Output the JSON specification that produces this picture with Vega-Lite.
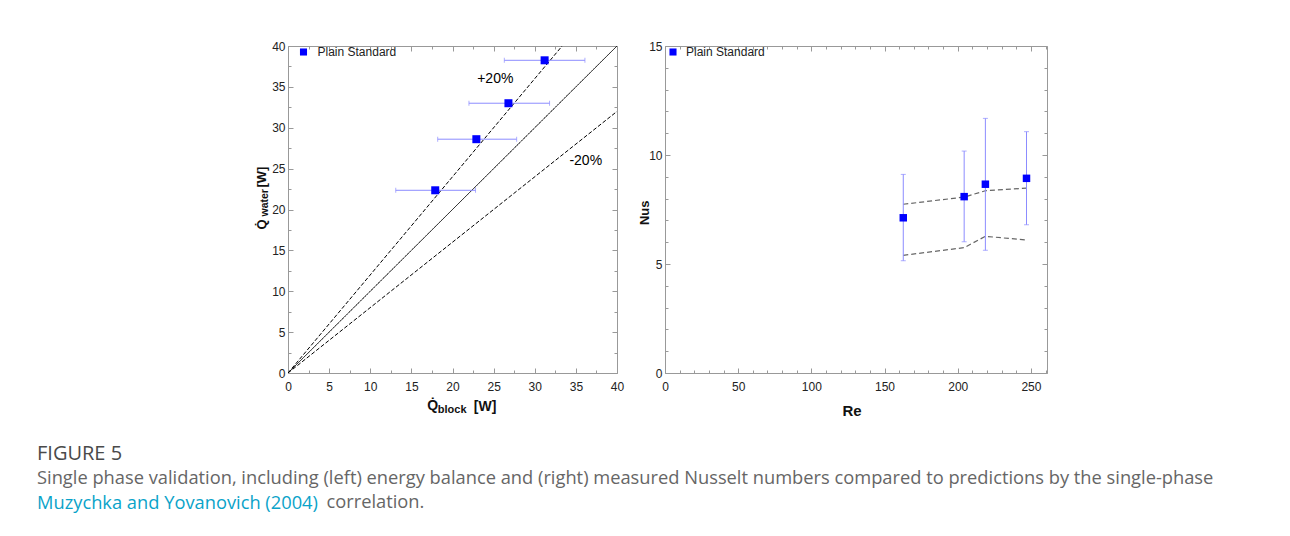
{
  "$schema": "https://vega.github.io/schema/vega-lite/v6.json",
  "background": "white",
  "padding": {"left": 37, "top": 39, "right": 5, "bottom": 5},
  "autosize": {"type": "pad"},
  "config": {
    "view": {"stroke": "#999999", "strokeWidth": 1},
    "font": "Liberation Sans",
    "axis": {"labelFont": "Liberation Sans", "labelFontSize": 12, "labelColor": "#222222", "titleFont": "Liberation Sans", "titleFontWeight": "bold", "titleColor": "#111111", "tickColor": "#999999", "tickWidth": 1, "grid": false, "domain": false, "labelFlush": false, "labelOverlap": false, "labelBound": false, "titlePadding": 0}
  },
  "datasets": {
    "left_pts": [
      {"qb": 17.9, "qw": 22.35, "lo": 13.1, "hi": 22.8, "series": "Plain Standard"},
      {"qb": 22.9, "qw": 28.6, "lo": 18.2, "hi": 27.8, "series": "Plain Standard"},
      {"qb": 26.8, "qw": 33.0, "lo": 22.0, "hi": 31.8, "series": "Plain Standard"},
      {"qb": 31.2, "qw": 38.25, "lo": 26.3, "hi": 36.1, "series": "Plain Standard"}
    ],
    "left_lines": [
      {"line": "parity", "style": "solid", "qb": 0, "qw": 0},
      {"line": "parity", "style": "solid", "qb": 40, "qw": 40},
      {"line": "plus20", "style": "dashed", "qb": 0, "qw": 0},
      {"line": "plus20", "style": "dashed", "qb": 33.33, "qw": 40},
      {"line": "minus20", "style": "dashed", "qb": 0, "qw": 0},
      {"line": "minus20", "style": "dashed", "qb": 40, "qw": 32}
    ],
    "left_labels": [
      {"qb": 25.2, "qw": 36.0, "label": "+20%"},
      {"qb": 36.2, "qw": 25.9, "label": "-20%"}
    ],
    "right_pts": [
      {"re": 162.8, "nu": 7.12, "lo": 5.15, "hi": 9.11, "series": "Plain Standard"},
      {"re": 204.4, "nu": 8.09, "lo": 6.02, "hi": 10.18, "series": "Plain Standard"},
      {"re": 218.9, "nu": 8.66, "lo": 5.63, "hi": 11.68, "series": "Plain Standard"},
      {"re": 247.0, "nu": 8.93, "lo": 6.8, "hi": 11.07, "series": "Plain Standard"}
    ],
    "right_upper": [
      {"re": 162.8, "nu": 7.74},
      {"re": 204.4, "nu": 8.07},
      {"re": 218.9, "nu": 8.36},
      {"re": 247.0, "nu": 8.48}
    ],
    "right_lower": [
      {"re": 162.8, "nu": 5.4},
      {"re": 204.4, "nu": 5.75},
      {"re": 218.9, "nu": 6.27},
      {"re": 247.0, "nu": 6.1}
    ]
  },
  "title": {"text": "correlation.", "orient": "bottom", "anchor": "start", "frame": "bounds", "font": "Open Sans", "fontSize": 18.3, "fontWeight": "normal", "color": "#666666", "offset": 0, "dx": 289.5, "dy": -18.3},
  "vconcat": [
    {
      "title": {"text": "Muzychka and Yovanovich (2004)", "orient": "bottom", "anchor": "start", "frame": "bounds", "font": "Open Sans", "fontSize": 18.3, "fontWeight": "normal", "color": "#0aa3c9", "offset": 7.5},
      "vconcat": [
        {
          "title": {"text": "FIGURE 5", "subtitle": "Single phase validation, including (left) energy balance and (right) measured Nusselt numbers compared to predictions by the single-phase", "orient": "bottom", "anchor": "start", "frame": "bounds", "dx": -218, "offset": 25, "font": "Open Sans", "fontSize": 20, "fontWeight": "normal", "color": "#4a4a4a", "subtitleFont": "Open Sans", "subtitleFontSize": 18.3, "subtitleColor": "#666666", "subtitlePadding": 6.3},
          "spacing": 12,
          "resolve": {"scale": {"color": "independent"}},
          "hconcat": [
            {
              "width": 329,
              "height": 327,
              "layer": [
                {
                  "data": {"name": "left_lines"},
                  "mark": {"type": "line", "color": "black", "strokeWidth": 1, "clip": true},
                  "encoding": {
                    "x": {"field": "qb", "type": "quantitative", "scale": {"domain": [0, 40], "nice": false, "zero": false},
                      "axis": {"orient": "bottom", "values": [0, 5, 10, 15, 20, 25, 30, 35, 40], "ticks": false, "labelPadding": 8, "title": "Q̇", "titleFontSize": 14, "titleX": 138.7, "titleY": 36.5, "titleAlign": "left", "titleBaseline": "alphabetic", "titleAngle": 0}},
                    "y": {"field": "qw", "type": "quantitative", "scale": {"domain": [0, 40], "nice": false, "zero": false},
                      "axis": {"orient": "left", "values": [0, 5, 10, 15, 20, 25, 30, 35, 40], "ticks": false, "labelPadding": 3, "title": "Q̇", "titleFontSize": 13, "titleX": -22.5, "titleY": 183, "titleAngle": 270, "titleAlign": "left", "titleBaseline": "alphabetic"}},
                    "detail": {"field": "line"},
                    "strokeDash": {"field": "style", "type": "nominal", "scale": {"domain": ["solid", "dashed"], "range": [[1, 0], [4, 2]]}, "legend": null}
                  }
                },
                {
                  "data": {"name": "left_pts"},
                  "mark": {"type": "errorbar", "color": "#8c8cff", "thickness": 1, "ticks": {"size": 5, "thickness": 1}},
                  "encoding": {
                    "x": {"field": "lo", "type": "quantitative", "scale": {"domain": [0, 40], "nice": false, "zero": false}, "axis": null},
                    "x2": {"field": "hi"},
                    "y": {"field": "qw", "type": "quantitative", "scale": {"domain": [0, 40], "nice": false, "zero": false}, "axis": null}
                  }
                },
                {
                  "data": {"name": "left_pts"},
                  "mark": {"type": "point", "shape": "square", "filled": true, "size": 64, "opacity": 1},
                  "encoding": {
                    "x": {"field": "qb", "type": "quantitative", "scale": {"domain": [0, 40], "nice": false, "zero": false},
                      "axis": {"orient": "top", "offset": -327, "values": [0, 2.5, 5, 7.5, 10, 12.5, 15, 17.5, 20, 22.5, 25, 27.5, 30, 32.5, 35, 37.5, 40], "labels": false, "tickSize": {"condition": {"test": "datum.value % 5 === 0", "value": 5}, "value": 3}, "title": "block", "titleFontSize": 11, "titleX": 149.3, "titleY": 39, "titleAlign": "left", "titleBaseline": "alphabetic", "titleAngle": 0}},
                    "y": {"field": "qw", "type": "quantitative", "scale": {"domain": [0, 40], "nice": false, "zero": false},
                      "axis": {"orient": "right", "offset": -329, "values": [0, 2.5, 5, 7.5, 10, 12.5, 15, 17.5, 20, 22.5, 25, 27.5, 30, 32.5, 35, 37.5, 40], "labels": false, "tickSize": {"condition": {"test": "datum.value % 5 === 0", "value": 5}, "value": 3}, "title": "water", "titleFontSize": 10.5, "titleX": -20.5, "titleY": 170, "titleAngle": 270, "titleAlign": "left", "titleBaseline": "alphabetic"}},
                    "color": {"field": "series", "type": "nominal", "scale": {"range": ["#0000ff"]},
                      "legend": {"title": null, "orient": "none", "legendX": 9.5, "legendY": 0, "symbolType": "square", "symbolSize": 50, "symbolStrokeWidth": 0, "labelFont": "Liberation Sans", "labelFontSize": 12, "labelColor": "#222222", "labelOffset": 8, "padding": 0}}
                  }
                },
                {
                  "data": {"name": "left_labels"},
                  "mark": {"type": "text", "font": "Liberation Sans", "fontSize": 14, "color": "black"},
                  "encoding": {
                    "x": {"field": "qb", "type": "quantitative", "scale": {"domain": [0, 40], "nice": false, "zero": false},
                      "axis": {"orient": "bottom", "offset": -327, "values": [0, 2.5, 5, 7.5, 10, 12.5, 15, 17.5, 20, 22.5, 25, 27.5, 30, 32.5, 35, 37.5, 40], "labels": false, "tickSize": {"condition": {"test": "datum.value % 5 === 0", "value": 5}, "value": 3}, "title": "[W]", "titleFontSize": 14, "titleX": 185.3, "titleY": 364, "titleAlign": "left", "titleBaseline": "alphabetic", "titleAngle": 0}},
                    "y": {"field": "qw", "type": "quantitative", "scale": {"domain": [0, 40], "nice": false, "zero": false},
                      "axis": {"orient": "left", "offset": -329, "values": [0, 2.5, 5, 7.5, 10, 12.5, 15, 17.5, 20, 22.5, 25, 27.5, 30, 32.5, 35, 37.5, 40], "labels": false, "tickSize": {"condition": {"test": "datum.value % 5 === 0", "value": 5}, "value": 3}, "title": "[W]", "titleFontSize": 13, "titleX": -351.5, "titleY": 141, "titleAngle": 270, "titleAlign": "left", "titleBaseline": "alphabetic"}},
                    "text": {"field": "label"}
                  }
                }
              ],
              "resolve": {"axis": {"x": "independent", "y": "independent"}}
            },
            {
              "width": 382,
              "height": 327,
              "layer": [
                {
                  "data": {"name": "right_upper"},
                  "mark": {"type": "line", "color": "#666666", "strokeWidth": 1.2, "strokeDash": [5, 3]},
                  "encoding": {
                    "x": {"field": "re", "type": "quantitative", "scale": {"domain": [0, 261], "nice": false, "zero": false},
                      "axis": {"orient": "bottom", "values": [0, 50, 100, 150, 200, 250], "ticks": false, "labelPadding": 8, "title": "Re", "titleFontSize": 15, "titleX": 186.5, "titleY": 42, "titleAlign": "center", "titleBaseline": "alphabetic", "titleAngle": 0}},
                    "y": {"field": "nu", "type": "quantitative", "scale": {"domain": [0, 15], "nice": false, "zero": false},
                      "axis": {"orient": "left", "values": [0, 5, 10, 15], "ticks": false, "labelPadding": 3, "title": "Nus", "titleFontSize": 13, "titleX": -17, "titleY": 166.3, "titleAngle": 270, "titleAlign": "center", "titleBaseline": "alphabetic"}}
                  }
                },
                {
                  "data": {"name": "right_lower"},
                  "mark": {"type": "line", "color": "#666666", "strokeWidth": 1.2, "strokeDash": [5, 3]},
                  "encoding": {
                    "x": {"field": "re", "type": "quantitative", "scale": {"domain": [0, 261], "nice": false, "zero": false},
                      "axis": {"orient": "bottom", "offset": -327, "values": [0, 10, 20, 30, 40, 50, 60, 70, 80, 90, 100, 110, 120, 130, 140, 150, 160, 170, 180, 190, 200, 210, 220, 230, 240, 250, 260], "labels": false, "title": null, "tickSize": {"condition": {"test": "datum.value % 50 === 0", "value": 5}, "value": 3}}},
                    "y": {"field": "nu", "type": "quantitative", "scale": {"domain": [0, 15], "nice": false, "zero": false},
                      "axis": {"orient": "left", "offset": -382, "values": [0, 1, 2, 3, 4, 5, 6, 7, 8, 9, 10, 11, 12, 13, 14, 15], "labels": false, "title": null, "tickSize": {"condition": {"test": "datum.value % 5 === 0", "value": 5}, "value": 3}}}
                  }
                },
                {
                  "data": {"name": "right_pts"},
                  "mark": {"type": "errorbar", "color": "#8c8cff", "thickness": 1, "ticks": {"size": 5, "thickness": 1}},
                  "encoding": {
                    "x": {"field": "re", "type": "quantitative", "scale": {"domain": [0, 261], "nice": false, "zero": false}, "axis": null},
                    "y": {"field": "lo", "type": "quantitative", "scale": {"domain": [0, 15], "nice": false, "zero": false}, "axis": null},
                    "y2": {"field": "hi"}
                  }
                },
                {
                  "data": {"name": "right_pts"},
                  "mark": {"type": "point", "shape": "square", "filled": true, "size": 56, "opacity": 1},
                  "encoding": {
                    "x": {"field": "re", "type": "quantitative", "scale": {"domain": [0, 261], "nice": false, "zero": false},
                      "axis": {"orient": "top", "offset": -327, "values": [0, 10, 20, 30, 40, 50, 60, 70, 80, 90, 100, 110, 120, 130, 140, 150, 160, 170, 180, 190, 200, 210, 220, 230, 240, 250, 260], "labels": false, "title": null, "tickSize": {"condition": {"test": "datum.value % 50 === 0", "value": 5}, "value": 3}}},
                    "y": {"field": "nu", "type": "quantitative", "scale": {"domain": [0, 15], "nice": false, "zero": false},
                      "axis": {"orient": "right", "offset": -382, "values": [0, 1, 2, 3, 4, 5, 6, 7, 8, 9, 10, 11, 12, 13, 14, 15], "labels": false, "title": null, "tickSize": {"condition": {"test": "datum.value % 5 === 0", "value": 5}, "value": 3}}},
                    "color": {"field": "series", "type": "nominal", "scale": {"range": ["#0000ff"]},
                      "legend": {"title": null, "orient": "none", "legendX": 2, "legendY": 0, "symbolType": "square", "symbolSize": 50, "symbolStrokeWidth": 0, "labelFont": "Liberation Sans", "labelFontSize": 12, "labelColor": "#222222", "labelOffset": 7, "padding": 0}}
                  }
                }
              ],
              "resolve": {"axis": {"x": "independent", "y": "independent"}}
            }
          ]
        }
      ]
    }
  ]
}
